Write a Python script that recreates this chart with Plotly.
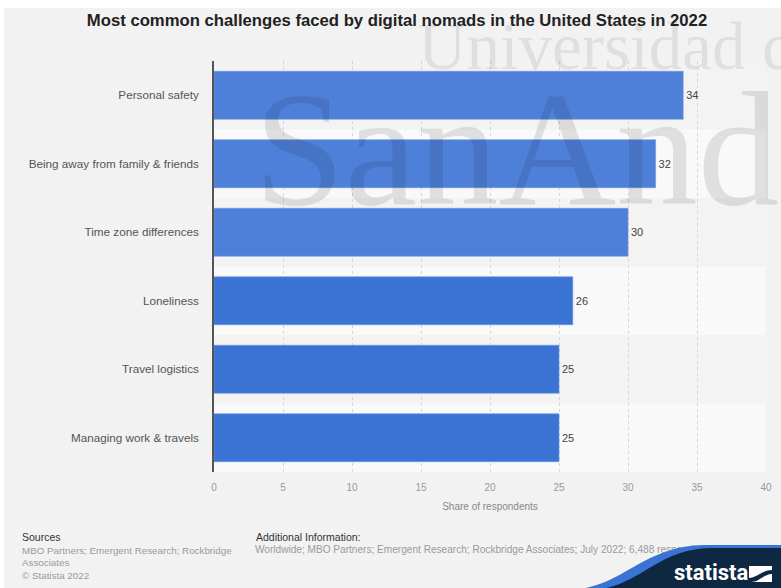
import plotly.graph_objects as go

# ---- data ----
categories = [
    "Personal safety",
    "Being away from family & friends",
    "Time zone differences",
    "Loneliness",
    "Travel logistics",
    "Managing work & travels",
]
shares = [34, 32, 30, 26, 25, 25]
bar_colors = ["#4e80da", "#4e80da", "#4e80da", "#3b73d4", "#3b73d4", "#3b73d4"]
x_ticks = [0, 5, 10, 15, 20, 25, 30, 35, 40]

title_text = "Most common challenges faced by digital nomads in the United States in 2022"
x_title = "Share of respondents"
sources_lines = ["MBO Partners; Emergent Research; Rockbridge", "Associates", "© Statista 2022"]
additional_info = ("Worldwide; MBO Partners; Emergent Research; Rockbridge Associates; "
                   "July 2022; 6,488 respondents")

# ---- canvas geometry (pixels) ----
W, H = 781, 588
PLOT_L, PLOT_R, PLOT_T, PLOT_B = 214, 766, 61, 472


def to_paper(xp, yp):
    """Convert page pixel coordinates into paper fractions (no margins)."""
    return xp / W, 1 - yp / H


def paper_path(points, close=True):
    """Build an SVG path in paper coordinates from pixel commands."""
    parts = []
    for cmd, *coords in points:
        conv = []
        for i in range(0, len(coords), 2):
            px_, py_ = to_paper(coords[i], coords[i + 1])
            conv.append(f"{px_:.5f},{py_:.5f}")
        parts.append(cmd + " " + " ".join(conv))
    return " ".join(parts) + (" Z" if close else "")


FONT = "Liberation Sans, Arial, sans-serif"
SERIF = "Liberation Serif, Times New Roman, serif"

fig = go.Figure()

fig.add_trace(go.Bar(
    orientation="h",
    x=shares,
    y=categories,
    marker=dict(color=bar_colors, line=dict(width=0.6, color="#6b96e0")),
    text=[str(v) for v in shares],
    textposition="outside",
    textfont=dict(family=FONT, size=11, color="#444444"),
    cliponaxis=False,
    hoverinfo="skip",
    showlegend=False,
))

# full-page pixel subplot: carries the footer line that runs under the brand badge
fig.add_trace(go.Scatter(
    x=[255], y=[550],
    xaxis="x2", yaxis="y2",
    mode="text",
    text=[additional_info],
    textposition="middle right",
    textfont=dict(family=FONT, size=10.1, color="#9a9a9a"),
    hoverinfo="skip",
    showlegend=False,
))

shapes = []
# grey page with a thin white rim on top and left
px0, py0 = to_paper(4, 8)
px1, py1 = to_paper(W + 2, H + 2)
shapes.append(dict(type="rect", xref="paper", yref="paper", x0=px0, y0=py1, x1=px1, y1=py0,
                   fillcolor="#f2f2f2", line=dict(width=0), layer="below"))
# alternating row bands
for i in range(len(categories)):
    shapes.append(dict(type="rect", xref="x domain", yref="y", x0=0, x1=1,
                       y0=i - 0.5, y1=i + 0.5,
                       fillcolor="#f9f9f9" if i % 2 else "#f3f3f3",
                       line=dict(width=0), layer="below"))

# brand badge in the bottom-right corner
shapes.append(dict(type="path", xref="paper", yref="paper", layer="above",
                   path=paper_path([("M", 566, 590), ("C", 622, 590, 640, 546, 704, 545),
                                    ("L", 783, 545), ("L", 783, 590)]),
                   fillcolor="#3b73d4", line=dict(width=0)))
shapes.append(dict(type="path", xref="paper", yref="paper", layer="above",
                   path=paper_path([("M", 588, 590), ("C", 638, 590, 655, 549, 710, 548),
                                    ("L", 783, 548), ("L", 783, 590)]),
                   fillcolor="#0f2841", line=dict(width=0)))
ix0, iy0 = to_paper(749, 566)
ix1, iy1 = to_paper(772, 582)
shapes.append(dict(type="rect", xref="paper", yref="paper", layer="above",
                   x0=ix0, y0=iy1, x1=ix1, y1=iy0, fillcolor="white", line=dict(width=0)))
shapes.append(dict(type="path", xref="paper", yref="paper", layer="above",
                   path=paper_path([("M", 749, 578), ("C", 757, 578, 762, 570, 772, 570),
                                    ("L", 772, 574), ("C", 764, 574, 759, 582, 751, 582),
                                    ("L", 749, 582)]),
                   fillcolor="#0f2841", line=dict(width=0)))

annotations = []


def add_text(xp, yp, text, size, color, family=FONT, weight="normal", xanchor="left"):
    ax, ay = to_paper(xp, yp)
    annotations.append(dict(xref="paper", yref="paper", x=ax, y=ay, text=text,
                            showarrow=False, xanchor=xanchor, yanchor="middle",
                            font=dict(family=family, size=size, color=color, weight=weight)))


# university watermark
add_text(416, 46, "Universidad de", 67, "rgba(0,0,0,0.08)", family=SERIF)
add_text(252, 149, "SanAndrés", 163, "rgba(0,0,0,0.10)", family=SERIF)

# footer
add_text(20, 537, "Sources", 10.5, "#333333")
for k, line in enumerate(sources_lines):
    add_text(20, 550 + k * 12.7, line, 9.8, "#9a9a9a")
add_text(254, 537, "Additional Information:", 10.5, "#333333")
add_text(672, 572, "statista", 22, "white",
         family="Liberation Sans Narrow, Roboto, Liberation Sans, sans-serif", weight="bold")

fig.update_layout(
    width=W, height=H,
    margin=dict(l=0, r=0, t=0, b=0, pad=0),
    paper_bgcolor="white",
    plot_bgcolor="rgba(0,0,0,0)",
    bargap=0.3,
    title=dict(text=title_text, x=397 / W, xanchor="center", xref="container",
               y=1 - 20 / H, yanchor="middle", yref="container",
               font=dict(family=FONT, size=16.7, color="#222222", weight="bold")),
    xaxis=dict(domain=[PLOT_L / W, PLOT_R / W], anchor="y",
               range=[0, 40], tickvals=x_ticks, showgrid=True, gridcolor="#d6d6d6",
               griddash="dot", gridwidth=1, zeroline=False, showline=False, ticks="",
               ticklabelstandoff=8, automargin=False,
               tickfont=dict(family=FONT, size=10, color="#999999"),
               title=dict(text=x_title, standoff=10,
                          font=dict(family=FONT, size=10, color="#888888")),
               fixedrange=True),
    yaxis=dict(domain=[1 - PLOT_B / H, 1 - PLOT_T / H], anchor="x",
               autorange="reversed", showgrid=False, zeroline=False, showline=True,
               linecolor="#555555", linewidth=1.5, ticks="", ticklabelstandoff=11,
               automargin=False,
               tickfont=dict(family=FONT, size=11.7, color="#555555"), fixedrange=True),
    # page-sized subplot in pixel units
    xaxis2=dict(domain=[0, 1], anchor="y2", range=[0, W], visible=False,
                showgrid=False, fixedrange=True),
    yaxis2=dict(domain=[0, 1], anchor="x2", range=[H, 0], visible=False,
                showgrid=False, fixedrange=True),
    shapes=shapes,
    annotations=annotations,
    showlegend=False,
)

fig.write_html("out.html", config={"displayModeBar": False})
